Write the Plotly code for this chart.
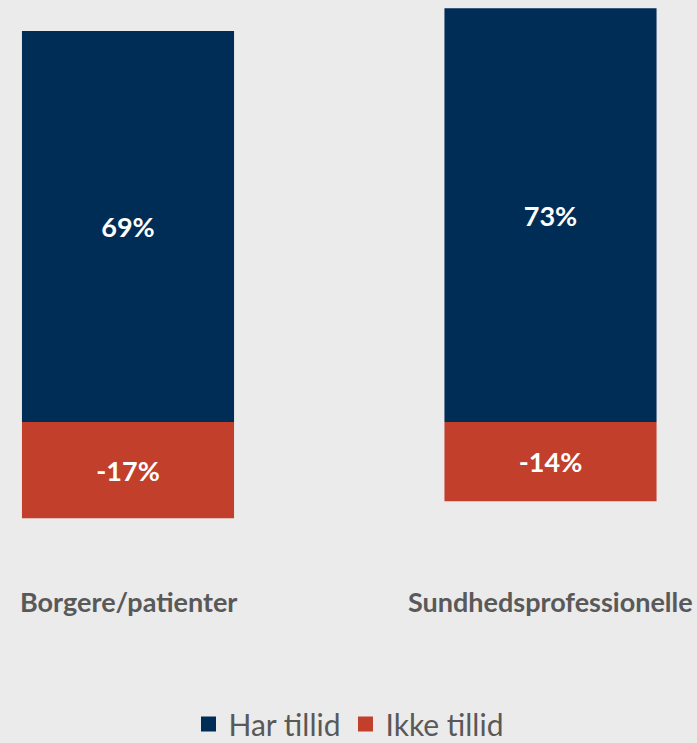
import plotly.graph_objects as go

categories = ["Borgere/patienter", "Sundhedsprofessionelle"]
har_tillid = [69, 73]
ikke_tillid = [-17, -14]
series_names = ["Har tillid", "Ikke tillid"]

navy = "#002D56"
red = "#C23F2C"
bg = "#EBEBEB"
gray = "#595959"
font_family = "Lato, 'Open Sans', sans-serif"

xpos = list(range(len(categories)))

fig = go.Figure()
for vals, name, color in [(har_tillid, series_names[0], navy), (ikke_tillid, series_names[1], red)]:
    fig.add_trace(go.Bar(
        x=xpos, y=vals, name=name, marker_color=color, marker_line_width=0,
        width=0.502, showlegend=False,
        text=[f"{v}%" for v in vals], textposition="inside",
        insidetextanchor="middle",
        textfont=dict(color="white", size=27, family=font_family, weight="bold"),
        hoverinfo="skip",
    ))
# legend entries with square markers
for name, color in [(series_names[0], navy), (series_names[1], red)]:
    fig.add_trace(go.Scatter(
        x=[None], y=[None], mode="markers", name=name,
        marker=dict(symbol="square", size=15, color=color),
    ))

px_per_unit = 422.5
x0 = -128 / px_per_unit
x1 = x0 + 697 / px_per_unit
ppu_y = 5.667
plot_h = 540
y_top = 422 / ppu_y
y_bot = (422 - plot_h) / ppu_y

for i, c in enumerate(categories):
    fig.add_annotation(
        x=i, y=(plot_h - 602) / plot_h, xref="x", yref="paper", text=c,
        showarrow=False, xanchor="center", yanchor="middle",
        font=dict(size=27, color=gray, family=font_family, weight="bold"),
    )

fig.update_layout(
    width=697, height=743,
    margin=dict(l=0, r=0, t=0, b=743 - plot_h, autoexpand=False),
    paper_bgcolor=bg, plot_bgcolor=bg,
    barmode="relative",
    showlegend=True,
    legend=dict(orientation="h", x=0.5, xanchor="center", y=(plot_h - 724) / plot_h, yanchor="middle",
                font=dict(size=30, color=gray, family=font_family),
                itemwidth=30, traceorder="normal"),
    xaxis=dict(range=[x0, x1], visible=False),
    yaxis=dict(range=[y_bot, y_top], visible=False),
)

fig.write_html("out.html", config={"displayModeBar": False},
               post_script="document.body.style.margin='0';")
